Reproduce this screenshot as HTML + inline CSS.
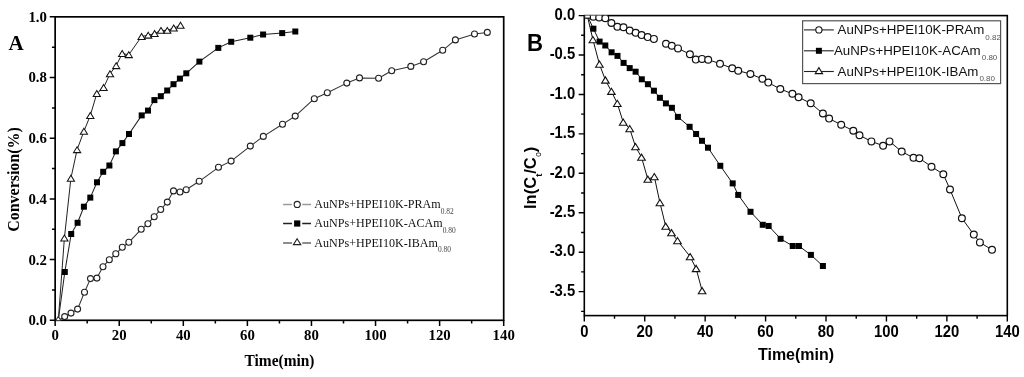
<!DOCTYPE html>
<html><head><meta charset="utf-8"><style>
html,body{margin:0;padding:0;background:#fff;}
body{width:1024px;height:377px;overflow:hidden;}
svg{display:block;filter:grayscale(1);}
</style></head><body>
<svg width="1024" height="377" viewBox="0 0 1024 377">
<rect width="1024" height="377" fill="#fff"/>
<rect x="55.15" y="16.85" width="448.55" height="303.45" fill="none" stroke="#000" stroke-width="1.7"/>
<path d="M55.15 320.3V325.9M87.19 320.3V323.5M119.23 320.3V325.9M151.27 320.3V323.5M183.31 320.3V325.9M215.35 320.3V323.5M247.39 320.3V325.9M279.43 320.3V323.5M311.46 320.3V325.9M343.5 320.3V323.5M375.54 320.3V325.9M407.58 320.3V323.5M439.62 320.3V325.9M471.66 320.3V323.5M503.7 320.3V325.9M55.15 320.3H49.75M55.15 289.96H51.95M55.15 259.61H49.75M55.15 229.26H51.95M55.15 198.92H49.75M55.15 168.58H51.95M55.15 138.23H49.75M55.15 107.88H51.95M55.15 77.54H49.75M55.15 47.19H51.95M55.15 16.85H49.75" stroke="#000" stroke-width="1.5" fill="none"/>
<g font-family='"Liberation Serif", serif' font-weight="bold" font-size="14.8" fill="#000">
<text x="55.15" y="340.2" text-anchor="middle">0</text><text x="119.23" y="340.2" text-anchor="middle">20</text><text x="183.31" y="340.2" text-anchor="middle">40</text><text x="247.39" y="340.2" text-anchor="middle">60</text><text x="311.46" y="340.2" text-anchor="middle">80</text><text x="375.54" y="340.2" text-anchor="middle">100</text><text x="439.62" y="340.2" text-anchor="middle">120</text><text x="503.7" y="340.2" text-anchor="middle">140</text><text x="46.9" y="325.2" text-anchor="end">0.0</text><text x="46.9" y="264.51" text-anchor="end">0.2</text><text x="46.9" y="203.82" text-anchor="end">0.4</text><text x="46.9" y="143.13" text-anchor="end">0.6</text><text x="46.9" y="82.44" text-anchor="end">0.8</text><text x="46.9" y="21.75" text-anchor="end">1.0</text></g>
<text x="279.5" y="366" text-anchor="middle" font-family='"Liberation Serif", serif' font-weight="bold" font-size="16" textLength="70" lengthAdjust="spacingAndGlyphs">Time(min)</text>
<text transform="translate(18.6,179.5) rotate(-90)" text-anchor="middle" font-family='"Liberation Serif", serif' font-weight="bold" font-size="16" textLength="104.5" lengthAdjust="spacingAndGlyphs">Conversion(%)</text>
<text x="8.5" y="49.7" font-family='"Liberation Serif", serif' font-weight="bold" font-size="21">A</text>
<defs><clipPath id="ca"><rect x="55.15" y="16.85" width="448.55" height="303.45"/></clipPath><clipPath id="cb"><rect x="584.3" y="15.6" width="423" height="300"/></clipPath></defs>
<g clip-path="url(#ca)">
<polyline points="58.3,320.3 64.7,316.6 71,313.1 77.6,309.1 84.5,292.2 90.5,278.6 96.9,278.1 103,266.7 109.3,259.8 115.8,253.8 122.3,247.3 128.8,242.3 141.2,229.3 147.9,223.7 154.2,216.7 160.7,209.5 167.3,202.1 173.5,190.9 180,192 186.2,189.7 199.2,181.3 218.5,167.3 231.1,161.1 250.3,146.1 263.3,136.4 282.5,124.2 295.2,116.1 314.3,98.7 327.3,92.7 346.8,83.1 359.5,77.9 378.6,78.3 391.7,70.7 410.8,66.4 423.6,61.7 442.7,50.3 455.4,39.9 474.5,34 487.3,32.4" fill="none" stroke="#333" stroke-width="1.05" stroke-linejoin="round"/>
<polyline points="58.3,320.3 64.8,272 71.2,234 77.6,222.8 83.9,206.7 90.3,197.6 97,182.3 103.2,171.8 109.4,165.5 115.9,151.4 122.4,143.1 129,134 141.7,115.4 148,110.6 154.4,100.1 160.8,96.2 167.2,90.5 173.5,84.2 179.9,78.6 186.3,73.3 199.4,61.6 218.3,47.9 231.2,41.8 250.3,37.7 263.1,34.5 282.2,33.1 295.3,31.5" fill="none" stroke="#222" stroke-width="1.05" stroke-linejoin="round"/>
<polyline points="58.3,320.3 64.4,238 70.9,178.3 77.1,149.7 83.9,131.3 90.3,115.5 96.8,93.5 103.6,87.6 110,73.8 116.2,65.7 122.2,53.6 128.8,54.7 141.6,36.5 148.2,35.2 154.6,33.6 161,30.4 167.3,30.4 173.7,28 180.5,25.3" fill="none" stroke="#222" stroke-width="1.0" stroke-linejoin="round"/>
<g fill="#fff" stroke="#222" stroke-width="1.1"><circle cx="64.7" cy="316.6" r="3.0"/><circle cx="71" cy="313.1" r="3.0"/><circle cx="77.6" cy="309.1" r="3.0"/><circle cx="84.5" cy="292.2" r="3.0"/><circle cx="90.5" cy="278.6" r="3.0"/><circle cx="96.9" cy="278.1" r="3.0"/><circle cx="103" cy="266.7" r="3.0"/><circle cx="109.3" cy="259.8" r="3.0"/><circle cx="115.8" cy="253.8" r="3.0"/><circle cx="122.3" cy="247.3" r="3.0"/><circle cx="128.8" cy="242.3" r="3.0"/><circle cx="141.2" cy="229.3" r="3.0"/><circle cx="147.9" cy="223.7" r="3.0"/><circle cx="154.2" cy="216.7" r="3.0"/><circle cx="160.7" cy="209.5" r="3.0"/><circle cx="167.3" cy="202.1" r="3.0"/><circle cx="173.5" cy="190.9" r="3.0"/><circle cx="180" cy="192" r="3.0"/><circle cx="186.2" cy="189.7" r="3.0"/><circle cx="199.2" cy="181.3" r="3.0"/><circle cx="218.5" cy="167.3" r="3.0"/><circle cx="231.1" cy="161.1" r="3.0"/><circle cx="250.3" cy="146.1" r="3.0"/><circle cx="263.3" cy="136.4" r="3.0"/><circle cx="282.5" cy="124.2" r="3.0"/><circle cx="295.2" cy="116.1" r="3.0"/><circle cx="314.3" cy="98.7" r="3.0"/><circle cx="327.3" cy="92.7" r="3.0"/><circle cx="346.8" cy="83.1" r="3.0"/><circle cx="359.5" cy="77.9" r="3.0"/><circle cx="378.6" cy="78.3" r="3.0"/><circle cx="391.7" cy="70.7" r="3.0"/><circle cx="410.8" cy="66.4" r="3.0"/><circle cx="423.6" cy="61.7" r="3.0"/><circle cx="442.7" cy="50.3" r="3.0"/><circle cx="455.4" cy="39.9" r="3.0"/><circle cx="474.5" cy="34" r="3.0"/><circle cx="487.3" cy="32.4" r="3.0"/></g>
<g fill="#000"><rect x="61.8" y="269" width="6.0" height="6.0"/><rect x="68.2" y="231" width="6.0" height="6.0"/><rect x="74.6" y="219.8" width="6.0" height="6.0"/><rect x="80.9" y="203.7" width="6.0" height="6.0"/><rect x="87.3" y="194.6" width="6.0" height="6.0"/><rect x="94" y="179.3" width="6.0" height="6.0"/><rect x="100.2" y="168.8" width="6.0" height="6.0"/><rect x="106.4" y="162.5" width="6.0" height="6.0"/><rect x="112.9" y="148.4" width="6.0" height="6.0"/><rect x="119.4" y="140.1" width="6.0" height="6.0"/><rect x="126" y="131" width="6.0" height="6.0"/><rect x="138.7" y="112.4" width="6.0" height="6.0"/><rect x="145" y="107.6" width="6.0" height="6.0"/><rect x="151.4" y="97.1" width="6.0" height="6.0"/><rect x="157.8" y="93.2" width="6.0" height="6.0"/><rect x="164.2" y="87.5" width="6.0" height="6.0"/><rect x="170.5" y="81.2" width="6.0" height="6.0"/><rect x="176.9" y="75.6" width="6.0" height="6.0"/><rect x="183.3" y="70.3" width="6.0" height="6.0"/><rect x="196.4" y="58.6" width="6.0" height="6.0"/><rect x="215.3" y="44.9" width="6.0" height="6.0"/><rect x="228.2" y="38.8" width="6.0" height="6.0"/><rect x="247.3" y="34.7" width="6.0" height="6.0"/><rect x="260.1" y="31.5" width="6.0" height="6.0"/><rect x="279.2" y="30.1" width="6.0" height="6.0"/><rect x="292.3" y="28.5" width="6.0" height="6.0"/></g>
<g fill="#fff" stroke="#111" stroke-width="1.05" stroke-linejoin="miter"><path d="M64.4 235L68 240.9L60.8 240.9Z"/><path d="M70.9 175.3L74.5 181.2L67.3 181.2Z"/><path d="M77.1 146.7L80.7 152.6L73.5 152.6Z"/><path d="M83.9 128.3L87.5 134.2L80.3 134.2Z"/><path d="M90.3 112.5L93.9 118.4L86.7 118.4Z"/><path d="M96.8 90.5L100.4 96.4L93.2 96.4Z"/><path d="M103.6 84.6L107.2 90.5L100 90.5Z"/><path d="M110 70.8L113.6 76.7L106.4 76.7Z"/><path d="M116.2 62.7L119.8 68.6L112.6 68.6Z"/><path d="M122.2 50.6L125.8 56.5L118.6 56.5Z"/><path d="M128.8 51.7L132.4 57.6L125.2 57.6Z"/><path d="M141.6 33.5L145.2 39.4L138 39.4Z"/><path d="M148.2 32.2L151.8 38.1L144.6 38.1Z"/><path d="M154.6 30.6L158.2 36.5L151 36.5Z"/><path d="M161 27.4L164.6 33.3L157.4 33.3Z"/><path d="M167.3 27.4L170.9 33.3L163.7 33.3Z"/><path d="M173.7 25L177.3 30.9L170.1 30.9Z"/><path d="M180.5 22.3L184.1 28.2L176.9 28.2Z"/></g>
<g fill="#fff" stroke="#333" stroke-width="1.05" stroke-linejoin="miter"><path d="M58.3 316.3L61.9 322.2L54.7 322.2Z"/></g>
</g>
<path d="M283.1 204.4H292M302.2 204.4H311" stroke="#9a9a9a" stroke-width="1.5"/><circle cx="297.2" cy="204.4" r="3.05" fill="#fff" stroke="#222" stroke-width="1.1"/><text transform="translate(314.3,208.2) scale(0.93,1)" font-family='"Liberation Serif", serif' font-size="13" fill="#111">AuNPs+HPEI10K-PRAm<tspan font-size="8" dy="5.5" fill="#444">0.82</tspan></text><path d="M283.1 223.5H292M302.2 223.5H311" stroke="#222" stroke-width="1.5"/><rect x="294.1" y="220.4" width="6.2" height="6.2" fill="#000"/><text transform="translate(314.3,227.3) scale(0.93,1)" font-family='"Liberation Serif", serif' font-size="13" fill="#111">AuNPs+HPEI10K-ACAm<tspan font-size="8" dy="5.5" fill="#444">0.80</tspan></text><path d="M283.1 242.9H292M302.2 242.9H311" stroke="#666" stroke-width="1.5"/><path d="M297.1 238.7L300.8 244.6L293.4 244.6Z" fill="#fff" stroke="#222" stroke-width="1.1"/><text transform="translate(314.3,246.7) scale(0.93,1)" font-family='"Liberation Serif", serif' font-size="13" fill="#111">AuNPs+HPEI10K-IBAm<tspan font-size="8" dy="5.5" fill="#444">0.80</tspan></text>
<rect x="584.3" y="15.6" width="423" height="300" fill="none" stroke="#000" stroke-width="1.6"/>
<path d="M584.3 315.6V321.4M614.51 315.6V318.8M644.73 315.6V321.4M674.94 315.6V318.8M705.16 315.6V321.4M735.37 315.6V318.8M765.59 315.6V321.4M795.8 315.6V318.8M826.01 315.6V321.4M856.23 315.6V318.8M886.44 315.6V321.4M916.66 315.6V318.8M946.87 315.6V321.4M977.09 315.6V318.8M1007.3 315.6V321.4M584.3 15.6H578.7M584.3 35.31H581.1M584.3 55.03H578.7M584.3 74.74H581.1M584.3 94.46H578.7M584.3 114.17H581.1M584.3 133.89H578.7M584.3 153.6H581.1M584.3 173.32H578.7M584.3 193.03H581.1M584.3 212.75H578.7M584.3 232.47H581.1M584.3 252.18H578.7M584.3 271.9H581.1M584.3 291.61H578.7M584.3 311.33H581.1" stroke="#000" stroke-width="1.4" fill="none"/>
<g font-family='"Liberation Sans", sans-serif' font-weight="bold" font-size="16.3" fill="#000">
<text transform="translate(584.3,337) scale(0.91,1)" text-anchor="middle">0</text><text transform="translate(644.73,337) scale(0.91,1)" text-anchor="middle">20</text><text transform="translate(705.16,337) scale(0.91,1)" text-anchor="middle">40</text><text transform="translate(765.59,337) scale(0.91,1)" text-anchor="middle">60</text><text transform="translate(826.01,337) scale(0.91,1)" text-anchor="middle">80</text><text transform="translate(886.44,337) scale(0.91,1)" text-anchor="middle">100</text><text transform="translate(946.87,337) scale(0.91,1)" text-anchor="middle">120</text><text transform="translate(1007.3,337) scale(0.91,1)" text-anchor="middle">140</text><text transform="translate(575.2,19.9) scale(0.91,1)" text-anchor="end">0.0</text><text transform="translate(575.2,59.33) scale(0.91,1)" text-anchor="end">-0.5</text><text transform="translate(575.2,98.76) scale(0.91,1)" text-anchor="end">-1.0</text><text transform="translate(575.2,138.19) scale(0.91,1)" text-anchor="end">-1.5</text><text transform="translate(575.2,177.62) scale(0.91,1)" text-anchor="end">-2.0</text><text transform="translate(575.2,217.05) scale(0.91,1)" text-anchor="end">-2.5</text><text transform="translate(575.2,256.48) scale(0.91,1)" text-anchor="end">-3.0</text><text transform="translate(575.2,295.91) scale(0.91,1)" text-anchor="end">-3.5</text></g>
<text x="796" y="360.2" text-anchor="middle" font-family='"Liberation Sans", sans-serif' font-weight="bold" font-size="16" textLength="76" lengthAdjust="spacingAndGlyphs">Time(min)</text>
<text transform="translate(535.6,209) rotate(-90) scale(0.95,1)" font-family='"Liberation Sans", sans-serif' font-weight="bold" font-size="17.4">ln(C<tspan font-size="9.8" dy="6.3">t</tspan><tspan dy="-6.3">/C</tspan><tspan font-size="8.5" font-weight="normal" dy="5" dx="0.5">o</tspan><tspan dy="-5">)</tspan></text>
<text transform="translate(527.1,51) scale(0.9,1)" font-family='"Liberation Sans", sans-serif' font-weight="bold" font-size="24.6">B</text>
<g clip-path="url(#cb)">
<polyline points="587.3,15.6 593.3,16.8 599.2,17.4 605.3,18.2 611.4,23 617.4,26.8 623.5,27.2 629.7,30.6 635.7,32.8 641.6,35.1 647.7,37.1 653.9,38.9" fill="none" stroke="#111" stroke-width="1.0" stroke-linejoin="round"/>
<polyline points="666,43.7 671.8,45.7 678,48.4 689.9,54.2 695.8,59.6 702,58.9 708.2,59.7 720,63.7 732.2,68.2 738.2,70.7 750.4,74 762.4,78.8 768.3,82.6 780.3,89 792.4,93.8 798.6,97.2 810.7,103.3 822.9,113.5 829.1,118.6 841.2,124.7 853.3,130.7 859.5,135.3 871.4,141.4 883.1,145.7 889.5,141.4 901.7,151.6 913.5,157.8 919.4,158.3 931.5,166.7 943.3,174.2 950,189.5 961.9,218.2 973.8,234.6 979.9,242.4 992,249.8" fill="none" stroke="#111" stroke-width="1.0" stroke-linejoin="round"/>
<polyline points="587.3,15.6 593.4,28.7 599.6,41.6 605.3,45.5 611.6,52.3 617.5,55.9 623.6,62.9 629.7,68.1 635.6,71.7 641.8,79.3 647.9,84.2 653.9,90.7 659.9,97.8 665.9,103.4 671.9,107.8 677.9,116.9 689.6,126.8 696.1,134 702,140.8 708,147.7 720.3,165.8 732.7,183.4 738.2,194.9 750.5,211.8 762.75,224.8 768.65,225.95 780.6,238.8 792.75,246 798.95,246 810.9,254.9 822.9,266" fill="none" stroke="#111" stroke-width="1.0" stroke-linejoin="round"/>
<polyline points="587.3,15.6 592.9,39.6 599.4,64.1 605.4,80 611.4,91.3 617.3,103.4 623.2,122.1 629.7,128.6 635.5,146.6 641.5,157.2 647.8,179.2 654.3,176.6 659.9,202.6 665.7,226.2 671.5,232.7 677.5,240.6 690.1,256.6 696.1,268.5 702.1,290.7" fill="none" stroke="#111" stroke-width="1.0" stroke-linejoin="round"/>
<g fill="#fff" stroke="#111" stroke-width="1.2"><circle cx="593.3" cy="16.8" r="3.4"/><circle cx="599.2" cy="17.4" r="3.4"/><circle cx="605.3" cy="18.2" r="3.4"/><circle cx="611.4" cy="23" r="3.4"/><circle cx="617.4" cy="26.8" r="3.4"/><circle cx="623.5" cy="27.2" r="3.4"/><circle cx="629.7" cy="30.6" r="3.4"/><circle cx="635.7" cy="32.8" r="3.4"/><circle cx="641.6" cy="35.1" r="3.4"/><circle cx="647.7" cy="37.1" r="3.4"/><circle cx="653.9" cy="38.9" r="3.4"/><circle cx="666" cy="43.7" r="3.4"/><circle cx="671.8" cy="45.7" r="3.4"/><circle cx="678" cy="48.4" r="3.4"/><circle cx="689.9" cy="54.2" r="3.4"/><circle cx="695.8" cy="59.6" r="3.4"/><circle cx="702" cy="58.9" r="3.4"/><circle cx="708.2" cy="59.7" r="3.4"/><circle cx="720" cy="63.7" r="3.4"/><circle cx="732.2" cy="68.2" r="3.4"/><circle cx="738.2" cy="70.7" r="3.4"/><circle cx="750.4" cy="74" r="3.4"/><circle cx="762.4" cy="78.8" r="3.4"/><circle cx="768.3" cy="82.6" r="3.4"/><circle cx="780.3" cy="89" r="3.4"/><circle cx="792.4" cy="93.8" r="3.4"/><circle cx="798.6" cy="97.2" r="3.4"/><circle cx="810.7" cy="103.3" r="3.4"/><circle cx="822.9" cy="113.5" r="3.4"/><circle cx="829.1" cy="118.6" r="3.4"/><circle cx="841.2" cy="124.7" r="3.4"/><circle cx="853.3" cy="130.7" r="3.4"/><circle cx="859.5" cy="135.3" r="3.4"/><circle cx="871.4" cy="141.4" r="3.4"/><circle cx="883.1" cy="145.7" r="3.4"/><circle cx="889.5" cy="141.4" r="3.4"/><circle cx="901.7" cy="151.6" r="3.4"/><circle cx="913.5" cy="157.8" r="3.4"/><circle cx="919.4" cy="158.3" r="3.4"/><circle cx="931.5" cy="166.7" r="3.4"/><circle cx="943.3" cy="174.2" r="3.4"/><circle cx="950" cy="189.5" r="3.4"/><circle cx="961.9" cy="218.2" r="3.4"/><circle cx="973.8" cy="234.6" r="3.4"/><circle cx="979.9" cy="242.4" r="3.4"/><circle cx="992" cy="249.8" r="3.4"/></g>
<g fill="#000"><rect x="590.4" y="25.7" width="6.0" height="6.0"/><rect x="596.6" y="38.6" width="6.0" height="6.0"/><rect x="602.3" y="42.5" width="6.0" height="6.0"/><rect x="608.6" y="49.3" width="6.0" height="6.0"/><rect x="614.5" y="52.9" width="6.0" height="6.0"/><rect x="620.6" y="59.9" width="6.0" height="6.0"/><rect x="626.7" y="65.1" width="6.0" height="6.0"/><rect x="632.6" y="68.7" width="6.0" height="6.0"/><rect x="638.8" y="76.3" width="6.0" height="6.0"/><rect x="644.9" y="81.2" width="6.0" height="6.0"/><rect x="650.9" y="87.7" width="6.0" height="6.0"/><rect x="656.9" y="94.8" width="6.0" height="6.0"/><rect x="662.9" y="100.4" width="6.0" height="6.0"/><rect x="668.9" y="104.8" width="6.0" height="6.0"/><rect x="674.9" y="113.9" width="6.0" height="6.0"/><rect x="686.6" y="123.8" width="6.0" height="6.0"/><rect x="693.1" y="131" width="6.0" height="6.0"/><rect x="699" y="137.8" width="6.0" height="6.0"/><rect x="705" y="144.7" width="6.0" height="6.0"/><rect x="717.3" y="162.8" width="6.0" height="6.0"/><rect x="729.7" y="180.4" width="6.0" height="6.0"/><rect x="735.2" y="191.9" width="6.0" height="6.0"/><rect x="747.5" y="208.8" width="6.0" height="6.0"/><rect x="759.75" y="221.8" width="6.0" height="6.0"/><rect x="765.65" y="222.95" width="6.0" height="6.0"/><rect x="777.6" y="235.8" width="6.0" height="6.0"/><rect x="789.75" y="243" width="6.0" height="6.0"/><rect x="795.95" y="243" width="6.0" height="6.0"/><rect x="807.9" y="251.9" width="6.0" height="6.0"/><rect x="819.9" y="263" width="6.0" height="6.0"/></g>
<g fill="#fff" stroke="#111" stroke-width="1.1" stroke-linejoin="miter"><path d="M592.9 36.5L596.7 42.7L589.1 42.7Z"/><path d="M599.4 61L603.2 67.2L595.6 67.2Z"/><path d="M605.4 76.9L609.2 83.1L601.6 83.1Z"/><path d="M611.4 88.2L615.2 94.4L607.6 94.4Z"/><path d="M617.3 100.3L621.1 106.5L613.5 106.5Z"/><path d="M623.2 119L627 125.2L619.4 125.2Z"/><path d="M629.7 125.5L633.5 131.7L625.9 131.7Z"/><path d="M635.5 143.5L639.3 149.7L631.7 149.7Z"/><path d="M641.5 154.1L645.3 160.3L637.7 160.3Z"/><path d="M647.8 176.1L651.6 182.3L644 182.3Z"/><path d="M654.3 173.5L658.1 179.7L650.5 179.7Z"/><path d="M659.9 199.5L663.7 205.7L656.1 205.7Z"/><path d="M665.7 223.1L669.5 229.3L661.9 229.3Z"/><path d="M671.5 229.6L675.3 235.8L667.7 235.8Z"/><path d="M677.5 237.5L681.3 243.7L673.7 243.7Z"/><path d="M690.1 253.5L693.9 259.7L686.3 259.7Z"/><path d="M696.1 265.4L699.9 271.6L692.3 271.6Z"/><path d="M702.1 287.6L705.9 293.8L698.3 293.8Z"/></g>
<rect x="584.6" y="12.6" width="5.8" height="5.6" fill="#fff" stroke="#111" stroke-width="1.2"/>
</g>
<rect x="802.6" y="20.8" width="198" height="62.8" fill="#fff" stroke="#555" stroke-width="1.2"/>
<line x1="804" y1="29.9" x2="833.8" y2="29.9" stroke="#222" stroke-width="1.1"/><circle cx="818.9" cy="29.9" r="3.1" fill="#fff" stroke="#111" stroke-width="1.1"/><text x="837.6" y="33.9" font-family='"Liberation Sans", sans-serif' font-size="13.3" fill="#111">AuNPs+HPEI10K-PRAm<tspan font-size="8" dx="1" dy="5.6" fill="#555">0.82</tspan></text><line x1="804" y1="50.8" x2="833.8" y2="50.8" stroke="#222" stroke-width="1.1"/><rect x="815.9" y="47.8" width="6" height="6" fill="#000"/><text x="834" y="54.8" font-family='"Liberation Sans", sans-serif' font-size="13.3" fill="#111">AuNPs+HPEI10K-ACAm<tspan font-size="8" dx="1" dy="5.6" fill="#555">0.80</tspan></text><line x1="804" y1="71.5" x2="833.8" y2="71.5" stroke="#222" stroke-width="1.1"/><path d="M818.9 67.6L822.6 73.6L815.2 73.6Z" fill="#fff" stroke="#111" stroke-width="1.05"/><text x="837.6" y="75.5" font-family='"Liberation Sans", sans-serif' font-size="13.3" fill="#111">AuNPs+HPEI10K-IBAm<tspan font-size="8" dx="1" dy="5.6" fill="#555">0.80</tspan></text>
</svg>
</body></html>
